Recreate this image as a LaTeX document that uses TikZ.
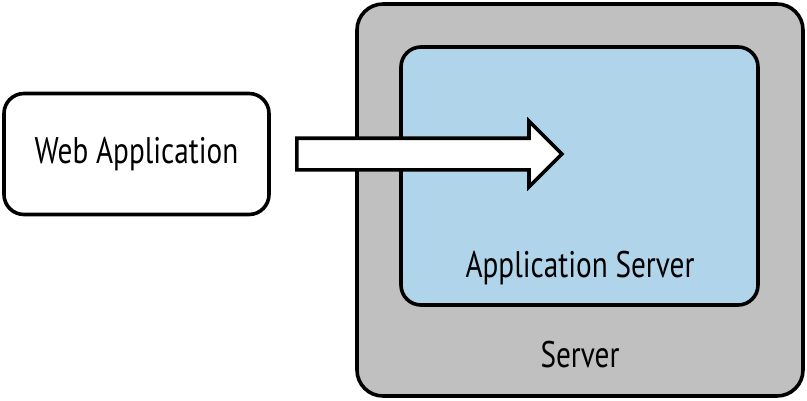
\documentclass[tikz,border=0pt]{standalone}
\usepackage{fontspec}
\setmainfont[FakeStretch=0.79]{PT Sans}
\usepackage{tikz}
\usetikzlibrary{positioning, shapes.arrows}
\definecolor{srvgray}{RGB}{192,192,192}
\definecolor{appblue}{RGB}{176,212,234}

\begin{document}
\begin{tikzpicture}[
    x=1pt, y=-1pt,
    box/.style={rectangle, draw, line width=3.6pt, rounded corners=20pt, inner sep=0pt, font=\fontsize{37}{40}\selectfont},
    bigarrow/.style={single arrow, draw, fill=white, line width=3.6pt, inner xsep=0pt, inner ysep=14pt,
        single arrow head extend=17pt, single arrow head indent=0pt, minimum height=265pt}
]
\useasboundingbox (0,0) rectangle (807,400);
% Server with application server inside
\node[box, fill=srvgray, rounded corners=26pt, minimum width=446pt, minimum height=392pt] (server) at (580,200) {};
\node[box, fill=appblue, minimum width=357pt, minimum height=258pt] (appserver) at (579.5,176) {};
\node[font=\fontsize{37}{40}\selectfont] (appserverlbl) at (580,268) {Application Server};
\node[font=\fontsize{37}{40}\selectfont] (serverlbl) at (580,355) {Server};

% Web application
\node[box, fill=white, minimum width=265pt, minimum height=121pt] (webapp) at (136.5,154) {Web Application};

% Request arrow
\node[bigarrow, anchor=west] (request) at (295,154) {};
\end{tikzpicture}
\end{document}
